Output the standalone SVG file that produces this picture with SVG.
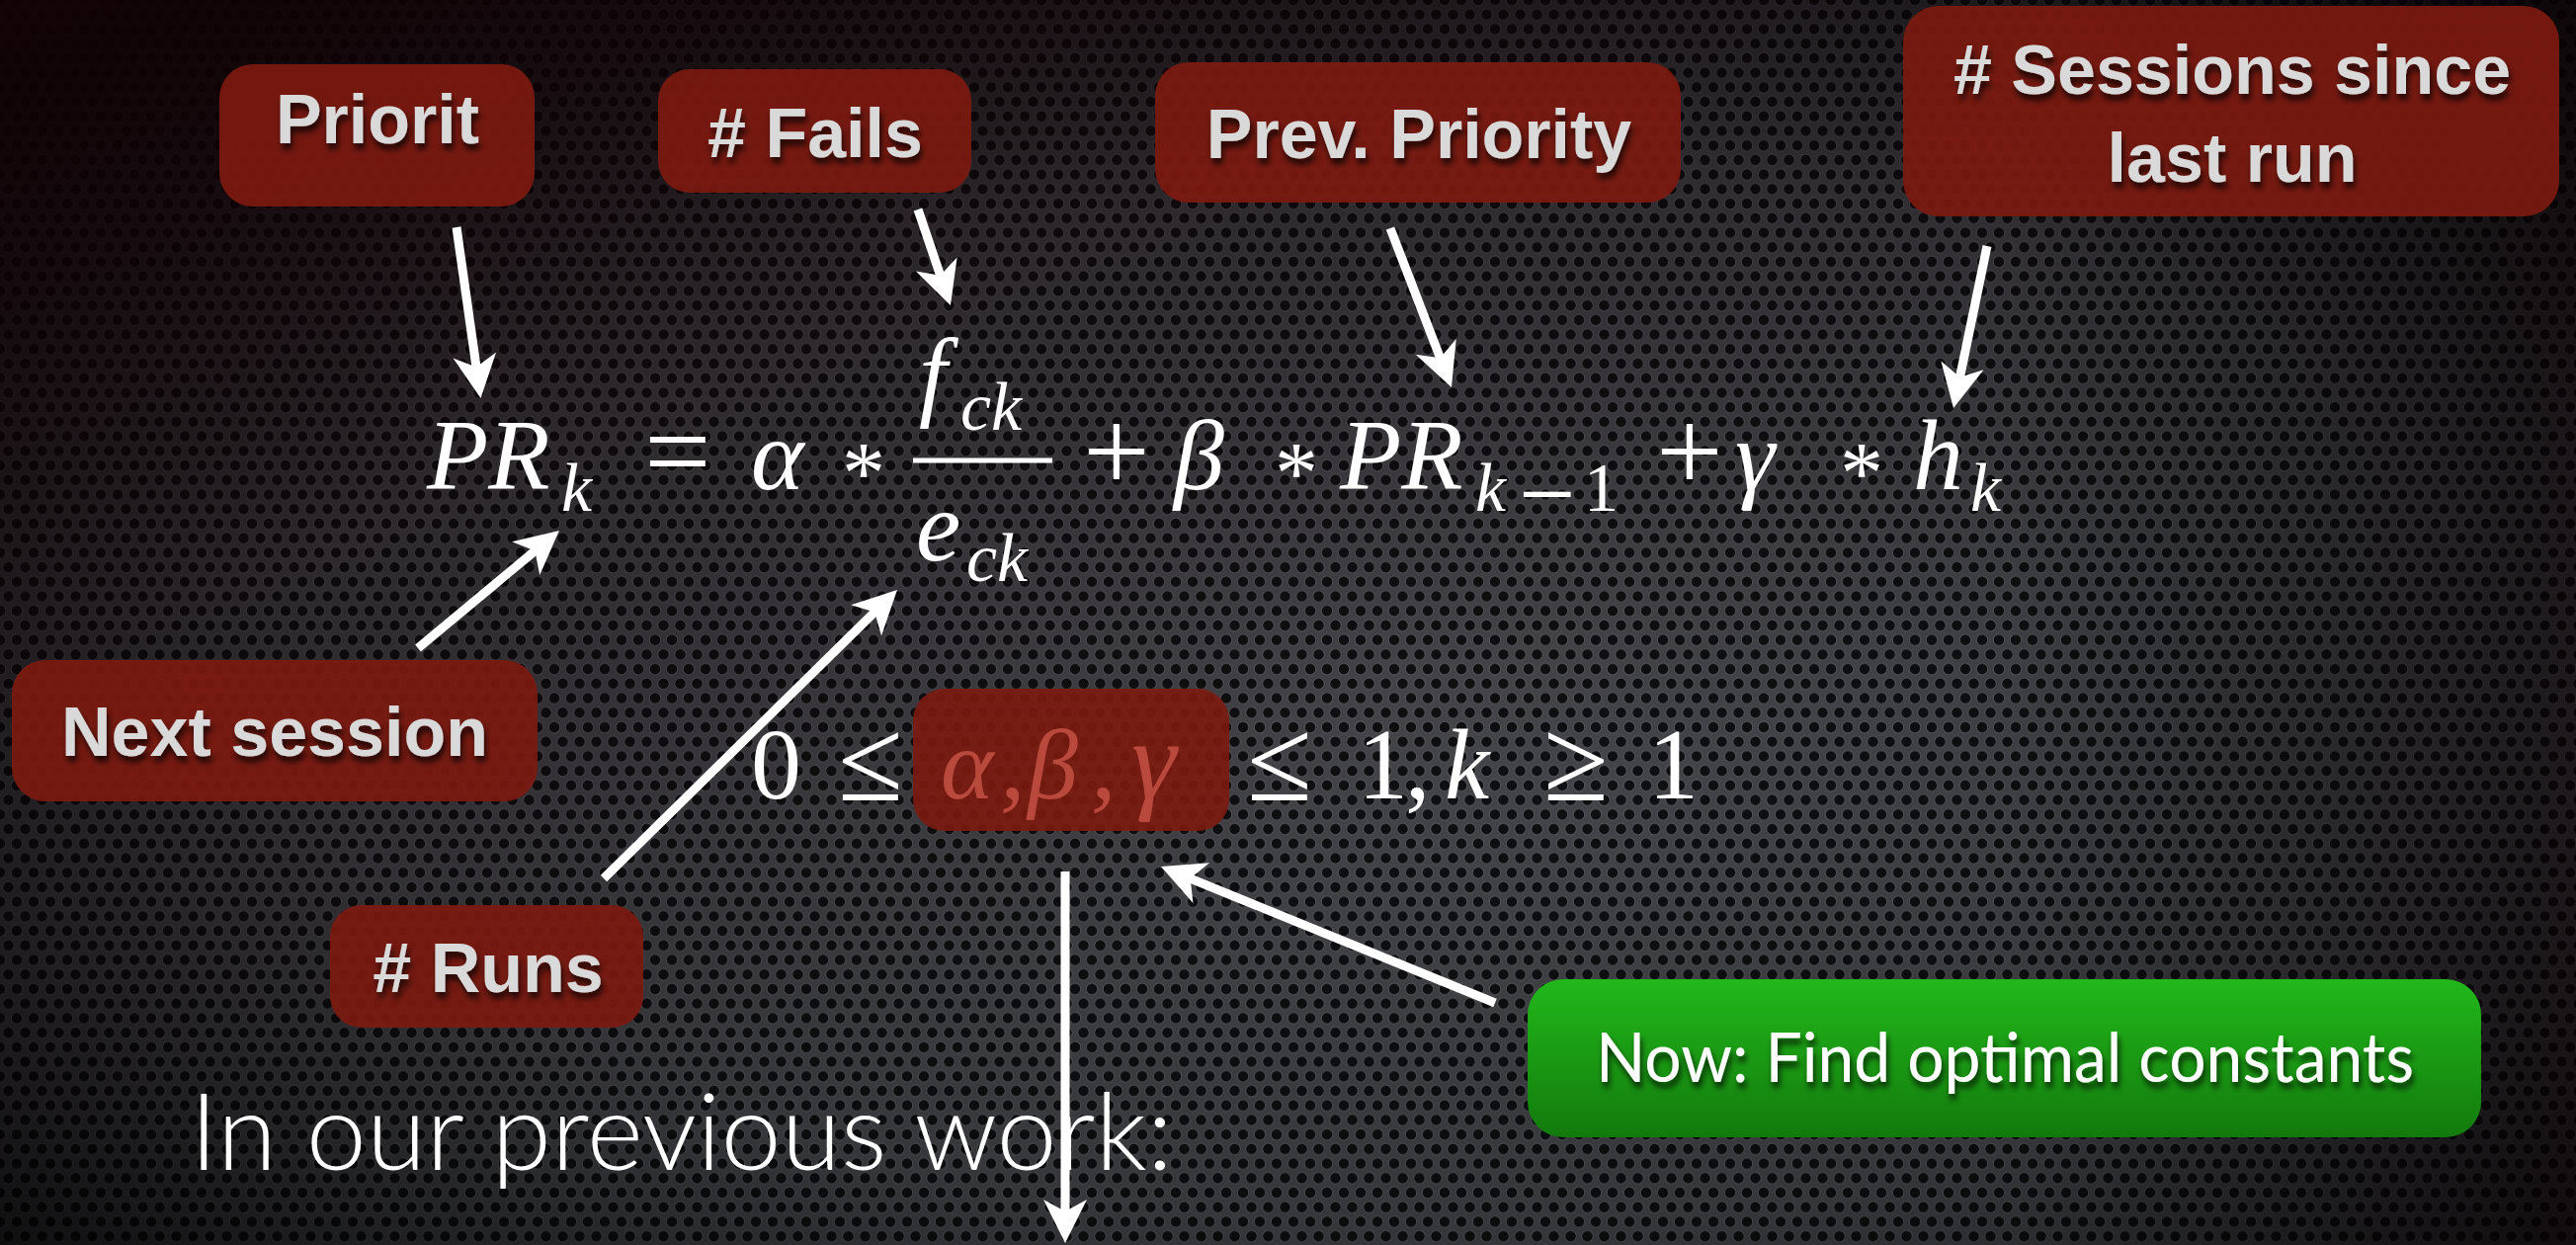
<svg xmlns="http://www.w3.org/2000/svg" width="2607" height="1260" viewBox="0 0 2607 1260">
<defs>
<style>
.lbl{font-family:"Liberation Sans",Arial,sans-serif;font-weight:bold;font-size:70px;fill:#d9d9d9;text-anchor:middle;filter:url(#ts)}
.box{fill:#7c1a10;fill-opacity:0.93}
.m{font-family:"Liberation Serif","Times New Roman",serif;font-size:102px;fill:#ffffff}
.mi{font-style:italic}
.sub{font-size:70px}
.op{font-size:120px}
.ast{font-size:88px}
.conn{stroke:#ffffff;stroke-width:9;fill:none;marker-end:url(#ah)}
</style>
<pattern id="holes" width="17" height="29.44" patternUnits="userSpaceOnUse">
<rect width="17" height="29.44" fill="#48494e"/>
<g fill="#0f1013" stroke="#5c5d62" stroke-width="1">
<circle cx="0" cy="0" r="5.8"/>
<circle cx="17" cy="0" r="5.8"/>
<circle cx="0" cy="29.44" r="5.8"/>
<circle cx="17" cy="29.44" r="5.8"/>
<circle cx="8.5" cy="14.72" r="5.8"/>
</g>
</pattern>
<radialGradient id="vig" cx="55%" cy="55%" r="72%">
<stop offset="0" stop-color="#000" stop-opacity="0.02"/>
<stop offset="0.6" stop-color="#000" stop-opacity="0.25"/>
<stop offset="1" stop-color="#000" stop-opacity="0.8"/>
</radialGradient>
<linearGradient id="tl" x1="0" y1="0" x2="0.55" y2="0.7">
<stop offset="0" stop-color="#120206" stop-opacity="0.9"/>
<stop offset="0.5" stop-color="#120206" stop-opacity="0.25"/>
<stop offset="1" stop-color="#120206" stop-opacity="0"/>
</linearGradient>
<linearGradient id="rt" x1="0" y1="0" x2="1" y2="0">
<stop offset="0.78" stop-color="#000" stop-opacity="0"/>
<stop offset="1" stop-color="#0a0204" stop-opacity="0.55"/>
</linearGradient>
<linearGradient id="grn" x1="0" y1="0" x2="0" y2="1">
<stop offset="0" stop-color="#22b81b"/>
<stop offset="1" stop-color="#127a0c"/>
</linearGradient>
<filter id="ts" x="-10%" y="-30%" width="130%" height="180%">
<feDropShadow dx="2" dy="6" stdDeviation="3" flood-color="#000" flood-opacity="0.75"/>
</filter>
<marker id="ah" markerUnits="userSpaceOnUse" markerWidth="60" markerHeight="60" viewBox="-20 -30 60 60" refX="0" refY="0" orient="auto" overflow="visible">
<path d="M30,0 L-14,-22 L-2,0 L-14,22 Z" fill="#ffffff"/>
</marker>
</defs>

<g id="background">
<rect width="2607" height="1260" fill="url(#holes)"/>
<rect width="2607" height="1260" fill="url(#vig)"/>
<rect width="2607" height="1260" fill="url(#tl)"/>
<rect width="2607" height="1260" fill="url(#rt)"/>
</g>

<g id="formula">
<text class="m mi" x="432" y="495">PR</text>
<text class="m mi sub" x="568" y="517">k</text>
<text class="m op" x="652" y="497">=</text>
<text class="m mi" x="760" y="495">α</text>
<text class="m ast" x="852" y="508">*</text>
<line x1="924" y1="466" x2="1065" y2="466" stroke="#ffffff" stroke-width="5"/>
<text class="m mi" x="930" y="412">f</text>
<text class="m mi sub" x="972" y="435">ck</text>
<text class="m mi" x="927" y="567">e</text>
<text class="m mi sub" x="978" y="588">ck</text>
<text class="m op" x="1096" y="497">+</text>
<text class="m mi" x="1188" y="495">β</text>
<text class="m ast" x="1290" y="508">*</text>
<text class="m mi" x="1356" y="495">PR</text>
<text class="m mi sub" x="1493" y="517">k</text>
<text class="m" x="1537" y="534" font-size="110">−</text>
<text class="m sub" x="1603" y="517">1</text>
<text class="m op" x="1676" y="497">+</text>
<text class="m mi" x="1756" y="495" font-size="115">γ</text>
<text class="m ast" x="1862" y="508">*</text>
<text class="m mi" x="1936" y="495">h</text>
<text class="m mi sub" x="1994" y="517">k</text>
</g>

<g id="constraint">
<text class="m" x="760" y="808">0</text>
<text class="m op" x="848" y="810">≤</text>
<rect x="924" y="697" width="320" height="144" rx="32" fill="#7c1a10" fill-opacity="0.9"/>
<text class="m mi" y="808" style="fill:#b9493d"><tspan x="952">α</tspan><tspan x="1012">,</tspan><tspan x="1040">β</tspan><tspan x="1104">,</tspan><tspan x="1145" font-size="115">γ</tspan></text>
<text class="m op" x="1262" y="810">≤</text>
<text class="m" x="1374" y="808">1</text>
<text class="m" x="1422" y="808">,</text>
<text class="m mi" x="1462" y="808">k</text>
<text class="m op" x="1562" y="810">≥</text>
<text class="m" x="1668" y="808">1</text>
</g>

<g id="connectors">
<line class="conn" x1="462" y1="230" x2="482.3" y2="373.4"/>
<line class="conn" x1="929" y1="212" x2="952.3" y2="280.6"/>
<line class="conn" x1="1407" y1="231" x2="1458.2" y2="364"/>
<line class="conn" x1="2011" y1="249" x2="1983.1" y2="383.6"/>
<line class="conn" x1="423" y1="656" x2="542.9" y2="556.2"/>
<line class="conn" x1="611" y1="889" x2="886.6" y2="618"/>
<line class="conn" x1="1078" y1="882" x2="1078" y2="1228"/>
<line class="conn" x1="1513" y1="1015" x2="1202.8" y2="888.3"/>
</g>

<g id="node-priorit">
<rect class="box" x="222" y="65" width="319" height="144" rx="34"/>
<text class="lbl" x="382" y="145">Priorit</text>
</g>
<g id="node-fails">
<rect class="box" x="666" y="70" width="317" height="125" rx="32"/>
<text class="lbl" x="825" y="159"># Fails</text>
</g>
<g id="node-prev">
<rect class="box" x="1169" y="63" width="532" height="142" rx="34"/>
<text class="lbl" x="1436" y="160">Prev. Priority</text>
</g>
<g id="node-sessions">
<rect class="box" x="1926" y="6" width="664" height="213" rx="36"/>
<text class="lbl" x="2259" y="95"># Sessions since</text>
<text class="lbl" x="2259" y="184">last run</text>
</g>
<g id="node-next">
<rect class="box" x="12" y="668" width="532" height="143" rx="34"/>
<text class="lbl" x="278" y="765">Next session</text>
</g>
<g id="node-runs">
<rect class="box" x="334" y="916" width="317" height="124" rx="32"/>
<text class="lbl" x="494" y="1004"># Runs</text>
</g>
<g id="node-now">
<rect x="1546" y="991" width="965" height="160" rx="36" fill="url(#grn)"/>
<text x="1615" y="1095" font-family="Lato,'Open Sans',sans-serif" font-size="70" fill="#ffffff" textLength="828" lengthAdjust="spacingAndGlyphs" filter="url(#ts)">Now: Find optimal constants</text>
</g>

<g id="caption">
<text x="192" y="1184" font-family="Lato,'Liberation Sans',sans-serif" font-weight="300" font-size="108" fill="#ffffff" textLength="995" lengthAdjust="spacingAndGlyphs">In our previous work:</text>
</g>
</svg>
